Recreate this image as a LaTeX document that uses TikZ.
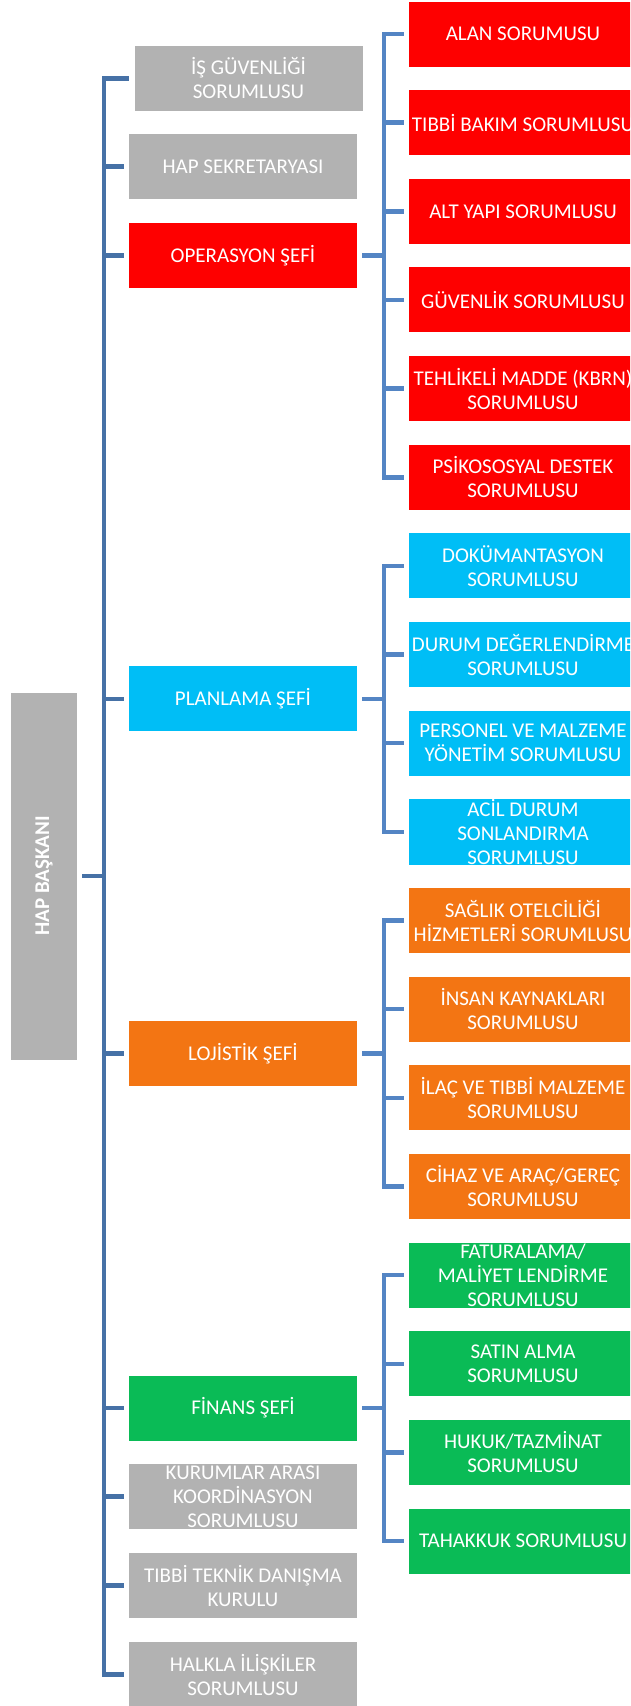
\documentclass[tikz,border=0pt]{standalone}
\usepackage{fontspec}
\setmainfont{Carlito}
\definecolor{hapgray}{RGB}{178,178,178}
\definecolor{hapred}{RGB}{254,0,0}
\definecolor{hapblue}{RGB}{0,190,246}
\definecolor{haporange}{RGB}{243,117,19}
\definecolor{hapgreen}{RGB}{10,187,86}
\definecolor{linkdark}{RGB}{70,113,166}
\definecolor{linklight}{RGB}{84,133,196}
\hyphenpenalty=10000
\tikzset{
  unitbox/.style={rectangle, fill=#1, text=white, minimum width=228, minimum height=65,
    text width=228pt, inner xsep=0pt, inner ysep=0pt, align=flush center,
    font=\fontsize{21}{24}\selectfont},
  headbox/.style={rectangle, fill=hapgray, text=white, minimum width=66, minimum height=367,
    inner sep=0pt, font=\fontsize{21}{24}\selectfont\bfseries},
  linkL/.style={draw=linkdark, line width=4.5pt, shorten <=5pt, shorten >=5pt},
  linkR/.style={draw=linklight, line width=4.5pt, shorten <=5pt, shorten >=5pt}
}
\begin{document}
\begin{tikzpicture}[x=1pt, y=-1pt]
\useasboundingbox (0,0) rectangle (630,1706);
\clip (0,0) rectangle (630,1706);
% head of the chart
\node[headbox] (hap) at (44,876) {\rotatebox{90}{HAP BAŞKANI}};
% left column: chiefs and staff
\foreach \nm/\x/\y/\col/\txt in {
    isg/248.5/78.5/hapgray/{İŞ GÜVENLİĞİ\\SORUMLUSU},
    sek/243/166.5/hapgray/{HAP SEKRETARYASI},
    ops/243/255.6/hapred/{OPERASYON ŞEFİ},
    plan/243/698.9/hapblue/{PLANLAMA ŞEFİ},
    loj/243/1053.5/haporange/{LOJİSTİK ŞEFİ},
    fin/243/1408.1/hapgreen/{FİNANS ŞEFİ},
    kur/243/1496.5/hapgray/{KURUMLAR ARASI\\KOORDİNASYON\\SORUMLUSU},
    tib/243/1585.5/hapgray/{TIBBİ TEKNİK DANIŞMA\\KURULU},
    hal/243/1674.5/hapgray/{HALKLA İLİŞKİLER\\SORUMLUSU}} {
    \node[unitbox=\col] (\nm) at (\x,\y) {\txt};}
% right column: 18 units, one every 88.65
\foreach \k/\col/\txt in {
    0/hapred/{ALAN SORUMUSU},
    1/hapred/{TIBBİ~BAKIM~SORUMLUSU},
    2/hapred/{ALT YAPI SORUMLUSU},
    3/hapred/{GÜVENLİK SORUMLUSU},
    4/hapred/{TEHLİKELİ~MADDE~(KBRN)\\SORUMLUSU},
    5/hapred/{PSİKOSOSYAL DESTEK\\SORUMLUSU},
    6/hapblue/{DOKÜMANTASYON\\SORUMLUSU},
    7/hapblue/{DURUM~DEĞERLENDİRME\\SORUMLUSU},
    8/hapblue/{PERSONEL~VE~MALZEME\\YÖNETİM SORUMLUSU},
    9/hapblue/{ACİL DURUM\\SONLANDIRMA\\SORUMLUSU},
    10/haporange/{SAĞLIK OTELCİLİĞİ\\HİZMETLERİ~SORUMLUSU},
    11/haporange/{İNSAN KAYNAKLARI\\SORUMLUSU},
    12/haporange/{İLAÇ~VE~TIBBİ~MALZEME\\SORUMLUSU},
    13/haporange/{CİHAZ VE ARAÇ/GEREÇ\\SORUMLUSU},
    14/hapgreen/{FATURALAMA/\\MALİYET LENDİRME\\SORUMLUSU},
    15/hapgreen/{SATIN ALMA\\SORUMLUSU},
    16/hapgreen/{HUKUK/TAZMİNAT\\SORUMLUSU},
    17/hapgreen/{TAHAKKUK~SORUMLUSU}} {
    \pgfmathsetmacro{\yk}{34 + 88.65*\k}
    \node[unitbox=\col] (c\k) at (523,\yk) {\txt};}
% elbow connectors
\foreach \nm in {isg,sek,ops,plan,loj,fin,kur,tib,hal}
    \draw[linkL] (hap.east) -- ++(27,0) |- (\nm.west);
\foreach \p/\a/\b in {ops/0/5, plan/6/9, loj/10/13, fin/14/17} {
    \foreach \k in {\a,...,\b}
        \draw[linkR] (\p.east) -- ++(27,0) |- (c\k.west);}
\end{tikzpicture}
\end{document}
